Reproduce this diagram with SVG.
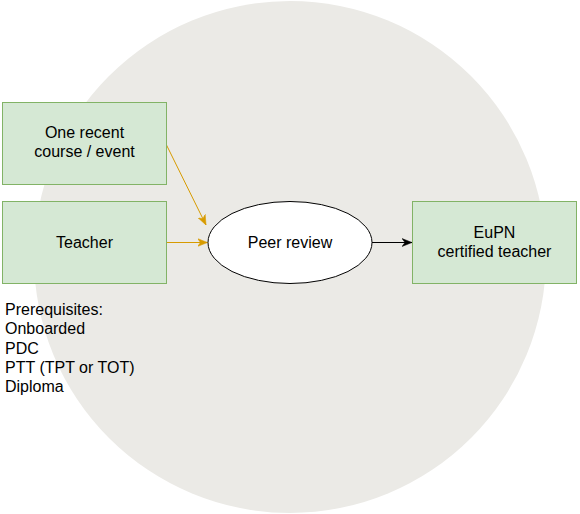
<svg xmlns="http://www.w3.org/2000/svg" width="580" height="514" viewBox="0 0 580 514">
  <defs>
    <style>
      .box { fill: #d5e8d4; stroke: #82b366; stroke-width: 1; }
      .lbl { font-family: "Liberation Sans", Arial, sans-serif; font-size: 16px; fill: #000; }
      .mid { text-anchor: middle; }
      .edge-o { stroke: #d79b00; stroke-width: 1; fill: none; }
      .edge-k { stroke: #000; stroke-width: 1; fill: none; }
    </style>
    <marker id="arrO" viewBox="0 0 10 10" refX="10" refY="5" markerWidth="10" markerHeight="10" markerUnits="userSpaceOnUse" orient="auto">
      <path d="M0,1 L10,5 L0,9 L3,5 Z" fill="#d79b00" stroke="#d79b00" stroke-width="0.5"/>
    </marker>
    <marker id="arrK" viewBox="0 0 10 10" refX="10" refY="5" markerWidth="10" markerHeight="10" markerUnits="userSpaceOnUse" orient="auto">
      <path d="M0,1 L10,5 L0,9 L3,5 Z" fill="#000" stroke="#000" stroke-width="0.5"/>
    </marker>
  </defs>

  <g id="background">
    <circle cx="290" cy="257" r="256" fill="#ebeae6"/>
  </g>

  <g id="connectors">
    <line class="edge-o" x1="166.5" y1="145" x2="206" y2="225" marker-end="url(#arrO)"/>
    <line class="edge-o" x1="166.5" y1="242.5" x2="207.5" y2="242.5" marker-end="url(#arrO)"/>
    <line class="edge-k" x1="372" y1="242.5" x2="412" y2="242.5" marker-end="url(#arrK)"/>
  </g>

  <g id="node-course">
    <rect class="box" x="2.5" y="102.5" width="164" height="82"/>
    <text class="lbl mid" x="84.5" y="138">One recent</text>
    <text class="lbl mid" x="84.5" y="157">course / event</text>
  </g>

  <g id="node-teacher">
    <rect class="box" x="2.5" y="201.5" width="164" height="82"/>
    <text class="lbl mid" x="84.5" y="248">Teacher</text>
  </g>

  <g id="node-peer-review">
    <ellipse cx="290" cy="242.5" rx="82" ry="41" fill="#ffffff" stroke="#000" stroke-width="1"/>
    <text class="lbl mid" x="290" y="248">Peer review</text>
  </g>

  <g id="node-certified">
    <rect class="box" x="412.5" y="201.5" width="164" height="82"/>
    <text class="lbl mid" x="494.5" y="238">EuPN</text>
    <text class="lbl mid" x="494.5" y="257">certified teacher</text>
  </g>

  <g id="prerequisites">
    <text class="lbl" x="5" y="315">Prerequisites:</text>
    <text class="lbl" x="5" y="334.3">Onboarded</text>
    <text class="lbl" x="5" y="353.6">PDC</text>
    <text class="lbl" x="5" y="372.9">PTT (TPT or TOT)</text>
    <text class="lbl" x="5" y="392.2">Diploma</text>
  </g>
</svg>
